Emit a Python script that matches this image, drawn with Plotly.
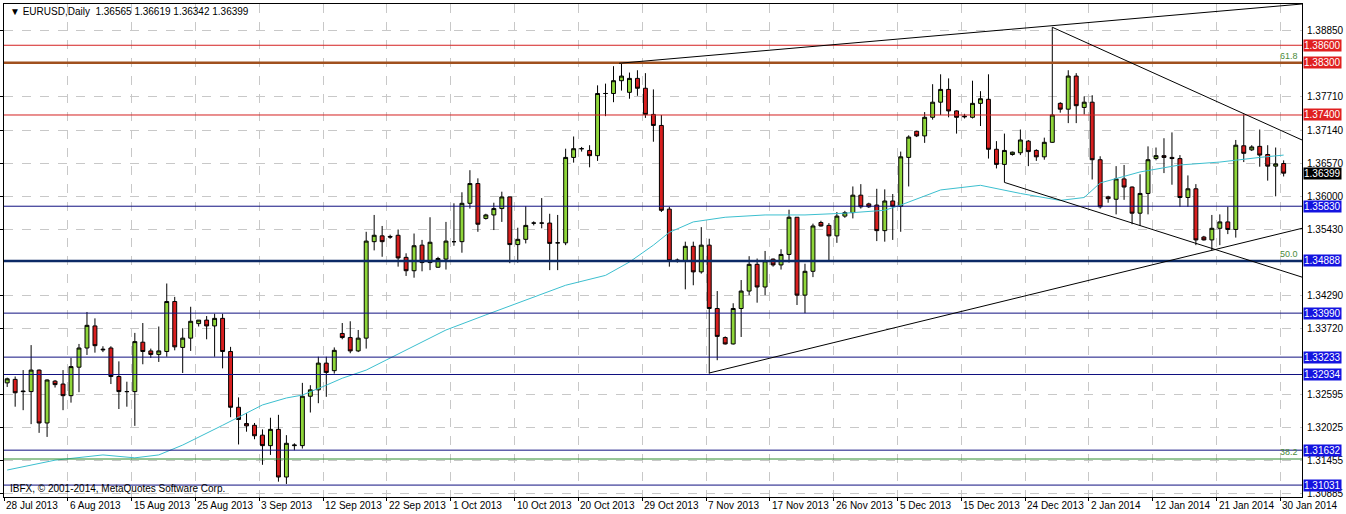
import plotly.graph_objects as go

# ---------------- data ----------------
opens = [1.3279, 1.3285, 1.3265, 1.3264, 1.3301, 1.3210, 1.3282, 1.3277, 1.3257, 1.3306,
         1.3339, 1.3377, 1.3337, 1.3339, 1.3290, 1.3264, 1.3264, 1.3349, 1.3334, 1.3328,
         1.3333, 1.3419, 1.3340, 1.3356, 1.3381, 1.3387, 1.3377, 1.3390, 1.3333, 1.3237,
         1.3209, 1.3206, 1.3189, 1.3171, 1.3199, 1.3117, 1.3171, 1.3171, 1.3256, 1.3267,
         1.3313, 1.3300, 1.3364, 1.3357, 1.3334, 1.3356, 1.3522, 1.3532, 1.3531, 1.3533,
         1.3495, 1.3472, 1.3516, 1.3486, 1.3478, 1.3492, 1.3522, 1.3522, 1.3588, 1.3622,
         1.3562, 1.3568, 1.3579, 1.3599, 1.3517, 1.3526, 1.3554, 1.3554, 1.3554, 1.3520,
         1.3520, 1.3667, 1.3682, 1.3679, 1.3670, 1.3777, 1.3777, 1.3799, 1.3779, 1.3803,
         1.3786, 1.3741, 1.3722, 1.3578, 1.3490, 1.3489, 1.3514, 1.3470, 1.3516, 1.3407,
         1.3357, 1.3346, 1.3407, 1.3437, 1.3483, 1.3444, 1.3492, 1.3482, 1.3500, 1.3564,
         1.3430, 1.3471, 1.3555, 1.3550, 1.3532, 1.3566, 1.3572, 1.3602, 1.3587, 1.3585,
         1.3541, 1.3592, 1.3583, 1.3667, 1.3712, 1.3704, 1.3736, 1.3762, 1.3784, 1.3747,
         1.3738, 1.3736, 1.3760, 1.3767, 1.3681, 1.3655, 1.3672, 1.3675, 1.3695, 1.3679,
         1.3668, 1.3693, 1.3760, 1.3750, 1.3807, 1.3753, 1.3762, 1.3663, 1.3599, 1.3595,
         1.3630, 1.3616, 1.3571, 1.3605, 1.3665, 1.3670, 1.3667, 1.3665, 1.3598, 1.3613,
         1.3530, 1.3525, 1.3545, 1.3556, 1.3543, 1.3687, 1.3680, 1.3686, 1.3672, 1.3652,
         1.36565]
highs = [1.3288, 1.3290, 1.3301, 1.3344, 1.3302, 1.3285, 1.3284, 1.3301, 1.3322, 1.3346,
         1.3401, 1.3390, 1.3342, 1.3342, 1.3316, 1.3281, 1.3365, 1.3382, 1.3338, 1.3376,
         1.3450, 1.3427, 1.3373, 1.3410, 1.3387, 1.3394, 1.3398, 1.3398, 1.3341, 1.3254,
         1.3227, 1.3210, 1.3199, 1.3219, 1.3224, 1.3189, 1.3175, 1.3279, 1.3275, 1.3324,
         1.3324, 1.3340, 1.3382, 1.3385, 1.3370, 1.3539, 1.3568, 1.3549, 1.3534, 1.3543,
         1.3502, 1.3536, 1.3525, 1.3564, 1.3496, 1.3556, 1.3588, 1.3607, 1.3645, 1.3631,
         1.3570, 1.3589, 1.3608, 1.3599, 1.3546, 1.3583, 1.3557, 1.3597, 1.3570, 1.3568,
         1.3682, 1.3703, 1.3685, 1.3688, 1.3791, 1.3794, 1.3824, 1.3830, 1.3813, 1.3817,
         1.3812, 1.3784, 1.3740, 1.3582, 1.3493, 1.3522, 1.3522, 1.3547, 1.3527, 1.3437,
         1.3359, 1.3416, 1.3456, 1.3497, 1.3493, 1.3506, 1.3493, 1.3509, 1.3577, 1.3564,
         1.3484, 1.3553, 1.3558, 1.3554, 1.3573, 1.3575, 1.3617, 1.3621, 1.3589, 1.3613,
         1.3612, 1.3604, 1.3677, 1.3705, 1.3713, 1.3745, 1.3793, 1.3810, 1.3803, 1.3748,
         1.3742, 1.3799, 1.3781, 1.3810, 1.3695, 1.3708, 1.3677, 1.3715, 1.3697, 1.3681,
         1.3701, 1.3891, 1.3762, 1.3817, 1.3812, 1.3772, 1.3774, 1.3669, 1.3601, 1.3652,
         1.3654, 1.3617, 1.3638, 1.3686, 1.3684, 1.3700, 1.3710, 1.3671, 1.3636, 1.3621,
         1.3532, 1.3568, 1.3569, 1.3582, 1.3697, 1.3741, 1.3688, 1.3715, 1.3688, 1.3684,
         1.36619]
lows = [1.3272, 1.3238, 1.3232, 1.3208, 1.3193, 1.3186, 1.3271, 1.3232, 1.3245, 1.3263,
        1.3327, 1.3331, 1.3332, 1.3277, 1.3234, 1.3238, 1.3205, 1.3311, 1.3322, 1.3315,
        1.3324, 1.3335, 1.3296, 1.3334, 1.3376, 1.3354, 1.3324, 1.3304, 1.3220, 1.3173,
        1.3195, 1.3182, 1.3138, 1.3155, 1.3109, 1.3105, 1.3163, 1.3166, 1.3228, 1.3244,
        1.3255, 1.3295, 1.3354, 1.3330, 1.3332, 1.3338, 1.3507, 1.3496, 1.3527, 1.3479,
        1.3463, 1.3460, 1.3471, 1.3473, 1.3477, 1.3474, 1.3515, 1.3503, 1.3579, 1.3539,
        1.3560, 1.3542, 1.3556, 1.3485, 1.3486, 1.3519, 1.3550, 1.3545, 1.3473, 1.3473,
        1.3516, 1.3658, 1.3677, 1.3650, 1.3661, 1.3738, 1.3762, 1.3782, 1.3768, 1.3773,
        1.3735, 1.3694, 1.3573, 1.3479, 1.3486, 1.3440, 1.3447, 1.3467, 1.3295, 1.3318,
        1.3345, 1.3345, 1.3358, 1.3430, 1.3417, 1.3430, 1.3479, 1.3474, 1.3486, 1.3413,
        1.3399, 1.3461, 1.3548, 1.3487, 1.3520, 1.3563, 1.3562, 1.3579, 1.3580, 1.3523,
        1.3522, 1.3525, 1.3539, 1.3617, 1.3702, 1.3692, 1.3732, 1.3740, 1.3736, 1.3708,
        1.3734, 1.3734, 1.3721, 1.3665, 1.3648, 1.3624, 1.3670, 1.3671, 1.3652, 1.3661,
        1.3663, 1.3692, 1.3744, 1.3726, 1.3726, 1.3741, 1.3629, 1.3579, 1.3589, 1.3569,
        1.3594, 1.3552, 1.3549, 1.3569, 1.3662, 1.3640, 1.3620, 1.3582, 1.3582, 1.3516,
        1.3524, 1.3507, 1.3516, 1.3535, 1.3529, 1.3659, 1.3678, 1.3651, 1.3627, 1.3600,
        1.36342]
closes = [1.3286, 1.3262, 1.3264, 1.3301, 1.3210, 1.3284, 1.3276, 1.3257, 1.3307, 1.3339,
          1.3378, 1.3343, 1.3336, 1.3290, 1.3264, 1.3264, 1.3350, 1.3333, 1.3328, 1.3334,
          1.3419, 1.3341, 1.3356, 1.3385, 1.3387, 1.3377, 1.3390, 1.3333, 1.3237, 1.3216,
          1.3205, 1.3188, 1.3171, 1.3199, 1.3117, 1.3175, 1.3172, 1.3256, 1.3267, 1.3313,
          1.3297, 1.3335, 1.3357, 1.3334, 1.3356, 1.3523, 1.3533, 1.3522, 1.3530, 1.3494,
          1.3472, 1.3515, 1.3486, 1.3521, 1.3493, 1.3523, 1.3522, 1.3588, 1.3622, 1.3552,
          1.3568, 1.3579, 1.3599, 1.3517, 1.3526, 1.3550, 1.3554, 1.3554, 1.3519, 1.3520,
          1.3667, 1.3682, 1.3682, 1.3670, 1.3777, 1.3777, 1.3799, 1.3807, 1.3803, 1.3786,
          1.3741, 1.3722, 1.3576, 1.3489, 1.3490, 1.3514, 1.3470, 1.3516, 1.3407, 1.3359,
          1.3346, 1.3407, 1.3437, 1.3483, 1.3444, 1.3489, 1.3482, 1.3500, 1.3564, 1.3430,
          1.3471, 1.3549, 1.3549, 1.3532, 1.3566, 1.3572, 1.3602, 1.3582, 1.3582, 1.3541,
          1.3592, 1.3583, 1.3668, 1.3702, 1.3704, 1.3736, 1.3762, 1.3784, 1.3747, 1.3736,
          1.3737, 1.3760, 1.3768, 1.3681, 1.3655, 1.3679, 1.3676, 1.3697, 1.3677, 1.3668,
          1.3693, 1.3740, 1.3750, 1.3807, 1.3756, 1.3762, 1.3663, 1.3582, 1.3596, 1.3630,
          1.3616, 1.3571, 1.3605, 1.3663, 1.3670, 1.3667, 1.3665, 1.3598, 1.3613, 1.3525,
          1.3525, 1.3545, 1.3556, 1.3543, 1.3688, 1.3674, 1.3685, 1.3671, 1.3652, 1.3656,
          1.36399]
bars = list(range(len(opens)))

# moving average (cyan), read at a few bars
ma_bars = [0, 6, 12, 16, 19, 22, 27, 32, 35, 37, 40, 42, 45, 50, 55, 60, 65, 70, 75, 78,
           81, 83, 86, 90, 95, 100, 105, 110, 112, 117, 122, 127, 132, 135, 137, 142, 147,
           152, 157, 160]
ma_vals = [1.3129, 1.3146, 1.3155, 1.3150, 1.3155, 1.3172, 1.3206, 1.3241, 1.3253, 1.3258,
           1.3275, 1.3287, 1.3301, 1.3335, 1.3370, 1.3396, 1.3421, 1.3447, 1.3464, 1.3487,
           1.3516, 1.3538, 1.3556, 1.3564, 1.3568, 1.3568, 1.3571, 1.3576, 1.3585, 1.3611,
           1.3619, 1.3605, 1.3593, 1.3598, 1.3623, 1.3642, 1.3654, 1.3659, 1.3667, 1.3671]

date_labels = ["28 Jul 2013", "6 Aug 2013", "15 Aug 2013", "25 Aug 2013", "3 Sep 2013",
               "12 Sep 2013", "22 Sep 2013", "1 Oct 2013", "10 Oct 2013", "20 Oct 2013",
               "29 Oct 2013", "7 Nov 2013", "17 Nov 2013", "26 Nov 2013", "5 Dec 2013",
               "15 Dec 2013", "24 Dec 2013", "2 Jan 2014", "12 Jan 2014", "21 Jan 2014",
               "30 Jan 2014"]
price_ticks = [1.38850, 1.37710, 1.37140, 1.36570, 1.36000, 1.35430, 1.34290, 1.33720,
               1.32595, 1.32025, 1.31455, 1.30885]

# horizontal levels: (price, line colour, width, label box colour)
levels = [(1.38600, "#d42020", 1, "#e02020"), (1.38300, "#a0501e", 2.5, "#e02020"),
          (1.37400, "#d42020", 1, "#e02020"), (1.35830, "#101080", 1, "#1414e0"),
          (1.34888, "#0c2a66", 2.5, "#1414e0"), (1.33990, "#101080", 1, "#1414e0"),
          (1.33233, "#101080", 1, "#1414e0"), (1.32934, "#101080", 1, "#1414e0"),
          (1.31632, "#101080", 1, "#1414e0"), (1.31031, "#101080", 1, "#1414e0")]
fibo_line = 1.3148

# trend lines (bar, price) pairs
trend_lines = [((76.7, 1.3829), (162.3, 1.3931)), ((131, 1.3891), (162.3, 1.3697)),
               ((125, 1.3624), (162.3, 1.3461)), ((88, 1.3296), (162.3, 1.3545))]

y_lo, y_hi = 1.30826, 1.3931
x_lo, x_hi = -0.4, 162.3
FONT = "Liberation Sans, Arial, sans-serif"

fig = go.Figure()
fig.add_trace(go.Scatter(x=ma_bars, y=ma_vals, mode="lines",
                         line=dict(color="#3cbfcf", width=1), hoverinfo="skip"))
fig.add_trace(go.Candlestick(
    x=bars, open=opens, high=highs, low=lows, close=closes,
    increasing=dict(line=dict(color="black", width=1), fillcolor="#8fd63a"),
    decreasing=dict(line=dict(color="black", width=1), fillcolor="#d81f1f"),
    whiskerwidth=0))

for p, col, w, box in levels:
    fig.add_shape(type="line", xref="paper", x0=0, x1=1, y0=p, y1=p,
                  line=dict(color=col, width=w))
fig.add_shape(type="line", xref="paper", x0=0, x1=1, y0=fibo_line, y1=fibo_line,
              line=dict(color="#2e8b2e", width=1))
for (xa, ya), (xb, yb) in trend_lines:
    fig.add_shape(type="line", x0=xa, y0=ya, x1=xb, y1=yb, line=dict(color="black", width=1))

ann = []
for i, lab in enumerate(date_labels):
    ann.append(dict(x=i * 8 - 0.4, y=0, xref="x", yref="paper", text=lab, yshift=-1,
                    showarrow=False, xanchor="left", yanchor="top",
                    font=dict(size=10, color="black")))
for p in price_ticks:
    ann.append(dict(x=1, y=p, xref="paper", yref="y", text=f"{p:.5f}", showarrow=False,
                    xanchor="left", xshift=3, font=dict(size=10, color="black")))
for p, col, w, box in levels:
    ann.append(dict(x=1, y=p, xref="paper", yref="y", text=f"{p:.5f}", showarrow=False,
                    xanchor="left", xshift=1, bgcolor=box, borderpad=0,
                    font=dict(size=10, color="white")))
ann.append(dict(x=1, y=closes[-1], xref="paper", yref="y", text=f"{closes[-1]:.5f}",
                showarrow=False, xanchor="left", xshift=1, bgcolor="black", borderpad=0,
                font=dict(size=10, color="white")))
for p, t in [(1.3830, "61.8"), (1.34888, "50.0"), (fibo_line, "38.2")]:
    ann.append(dict(x=1, y=p, xref="paper", yref="y", text=t, showarrow=False,
                    xanchor="right", yanchor="bottom", xshift=-2,
                    font=dict(size=9, color="#4a8a3a")))
ann.append(dict(x=0, y=1, xref="paper", yref="paper", xshift=4,
                text="▼ EURUSD,Daily  1.36565 1.36619 1.36342 1.36399", showarrow=False,
                xanchor="left", yanchor="top", font=dict(size=10, color="black")))
ann.append(dict(x=0, y=0, xref="paper", yref="paper", xshift=4, yshift=1,
                text="IBFX, © 2001-2014, MetaQuotes Software Corp.", showarrow=False,
                xanchor="left", yanchor="bottom", font=dict(size=10, color="black")))

fig.update_layout(
    width=1346, height=514, margin=dict(l=1, r=44, t=4, b=17),
    paper_bgcolor="white", plot_bgcolor="white", showlegend=False,
    font=dict(family=FONT),
    annotations=ann,
    xaxis=dict(range=[x_lo, x_hi], rangeslider=dict(visible=False),
               tickvals=[i * 8 - 0.4 for i in range(len(date_labels))],
               showticklabels=False, showgrid=True, gridcolor="#c8c8c8", griddash="dash",
               zeroline=False, showline=True, linecolor="black", mirror=True,
               ticks="outside", ticklen=3, tickcolor="black"),
    yaxis=dict(range=[y_lo, y_hi], tickvals=price_ticks, showticklabels=False,
               showgrid=True, gridcolor="#c8c8c8", griddash="dash", zeroline=False,
               showline=True, linecolor="black", mirror=True, ticks="outside",
               ticklen=3, tickcolor="black"),
)

# page margin off so the figure fills the window exactly
fig.write_html("out.html", config={"displayModeBar": False},
               post_script="document.body.style.margin='0';")
